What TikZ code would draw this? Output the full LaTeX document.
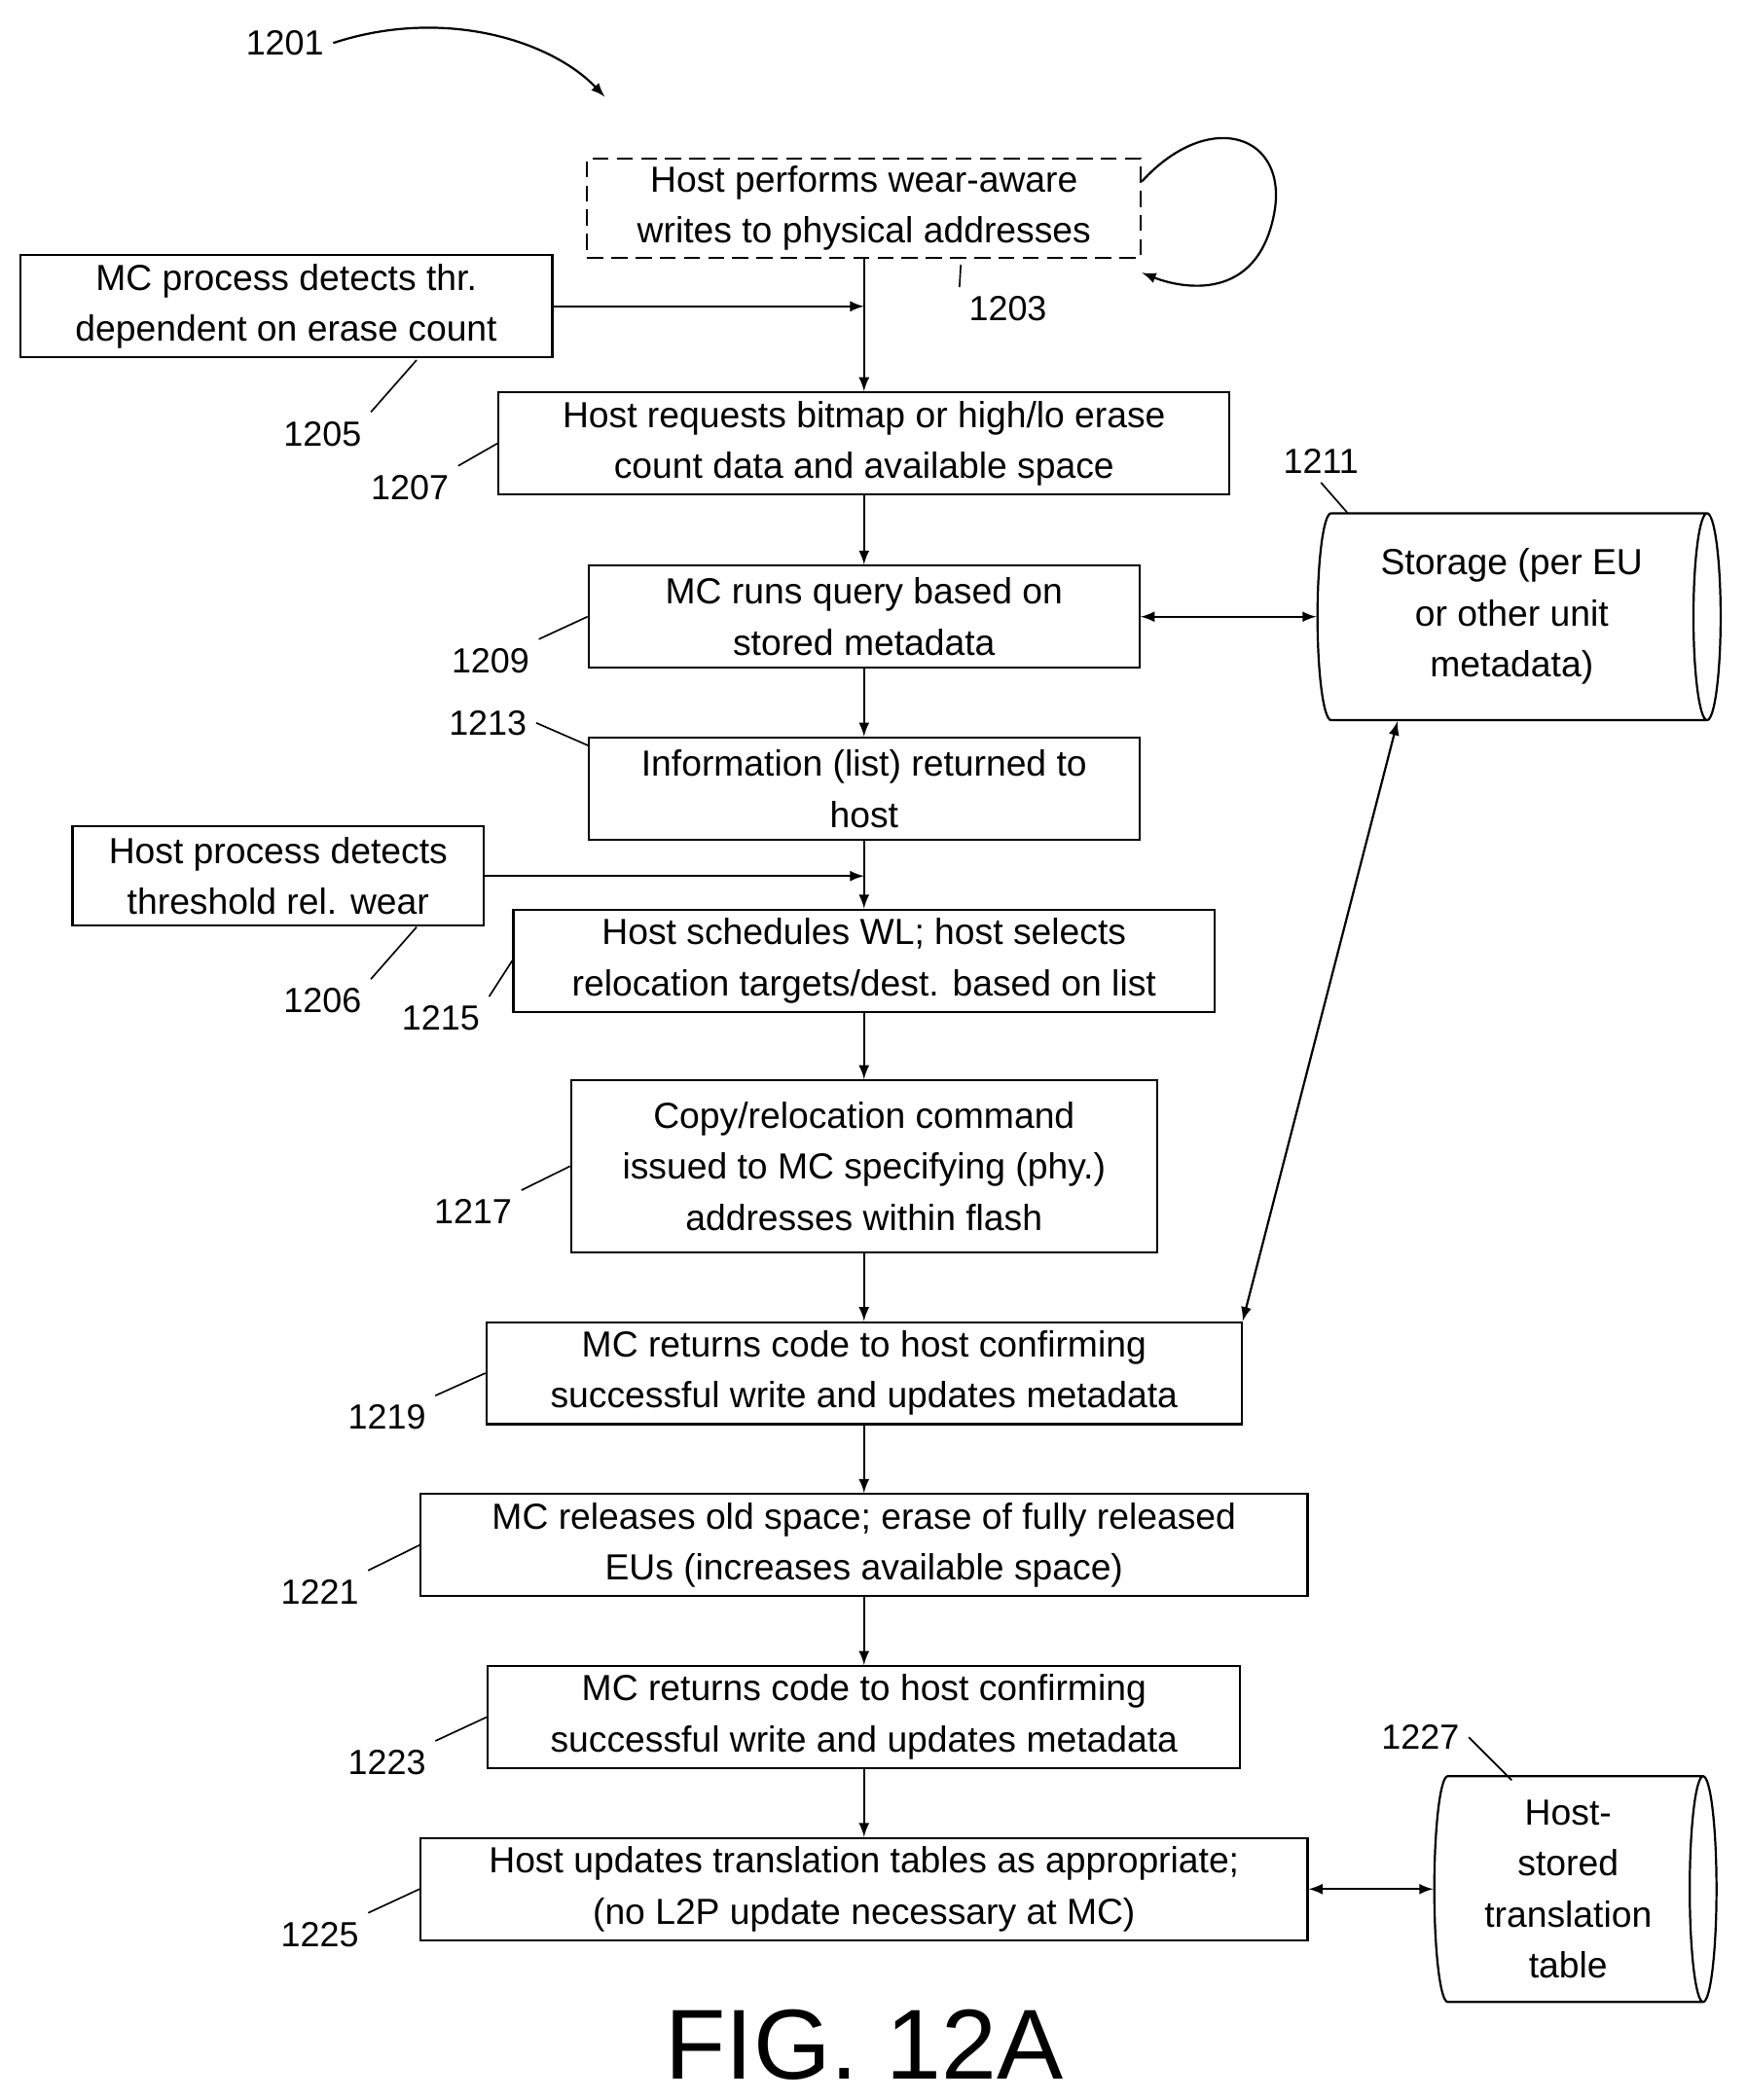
\documentclass[tikz,border=0pt]{standalone}
\usepackage{fontspec}
\setmainfont{Liberation Sans}
\usetikzlibrary{
  calc,
  positioning,
  shapes.geometric
}
\tikzset{
  % For process steps.
  stage/.style={
    draw,
    line width=0.8pt,
    align=center,
    inner sep=0pt,
    font=\fontsize{13.5pt}{19pt}\selectfont},
%
  % For the optional first step.
  dashed stage/.style={
    stage,
    dash pattern=on 6pt off 3pt},
%
  % For stored data.
  store/.style={
    draw,
    line width=0.8pt,
    cylinder,
    align=center,
    inner sep=0pt,
    font=\fontsize{13.5pt}{19pt}\selectfont},
%
  % For reference numerals.
  ref/.style={
    font=\fontsize{13pt}{15pt}\selectfont},
%
  % For lines from numerals to steps.
  leader/.style={
    line width=0.6pt},
%
  % For flow arrows.
  flow/.style={
    line width=0.8pt,
    -latex},
  % For two-way arrows.
  both/.style={
    line width=0.8pt,
    latex-latex}
}
\begin{document}
\begin{tikzpicture}[x=0.5pt,y=-0.5pt]
  \useasboundingbox (0,0) rectangle (1300,1563);

  \node [dashed stage, minimum width=206pt, minimum height=37pt] (wear) at (643,155)
        {Host performs wear-aware\\writes to physical addresses};
  \node [stage, minimum width=198pt, minimum height=38pt] (mcthr) at (213,228)
        {MC process detects thr.\\dependent on erase count};
  \node [stage, minimum width=272pt, minimum height=38pt] (request) at (643,330)
        {Host requests bitmap or high/lo erase\\count data and available space};
  \node [stage, minimum width=205pt, minimum height=38pt] (query) at (643,459)
        {MC runs query based on\\stored metadata};
  \node [stage, minimum width=205pt, minimum height=38pt] (info) at (643,587)
        {Information (list) returned to\\host};
  \node [stage, minimum width=153pt, minimum height=37pt] (hostthr) at (207,652)
        {Host process detects\\threshold rel. wear};
  \node [stage, minimum width=261pt, minimum height=38pt] (schedule) at (643,715)
        {Host schedules WL; host selects\\relocation targets/dest. based on list};
  \node [stage, minimum width=218pt, minimum height=64pt] (copy) at (643,868)
        {Copy/relocation command\\issued to MC specifying (phy.)\\addresses within flash};
  \node [stage, minimum width=281pt, minimum height=38pt] (confirm) at (643,1022)
        {MC returns code to host confirming\\successful write and updates metadata};
  \node [stage, minimum width=330pt, minimum height=38pt] (release) at (643,1150)
        {MC releases old space; erase of fully released\\EUs (increases available space)};
  \node [stage, minimum width=280pt, minimum height=38pt] (confirm2) at (643,1278)
        {MC returns code to host confirming\\successful write and updates metadata};
  \node [stage, minimum width=330pt, minimum height=38pt] (update) at (643,1406)
        {Host updates translation tables as appropriate;\\(no L2P update necessary at MC)};

  \node [store, minimum height=150pt, minimum width=77pt, aspect=0.2] (meta) at (1125,459)
        {Storage (per EU\\or other unit\\metadata)};
  \node [store, minimum height=105pt, minimum width=84pt, aspect=0.15] (table) at (1167,1406)
        {Host-\\stored\\translation\\table};

  % Junctions on the main flow.
  \coordinate (j1) at (wear.south |- mcthr);
  \coordinate (j2) at (info.south |- hostthr);

  \draw[flow] (wear) -- (request);
  \draw[flow] (mcthr) -- (j1);
  \draw[flow] (request) -- (query);
  \draw[both] (query) -- (meta);
  \draw[flow] (query) -- (info);
  \draw[flow] (info) -- (schedule);
  \draw[flow] (hostthr) -- (j2);
  \draw[flow] (schedule) -- (copy);
  \draw[flow] (copy) -- (confirm);
  \draw[both] (confirm.north east) -- ($(meta.south)+(-85,0)$);
  \draw[flow] (confirm) -- (release);
  \draw[flow] (release) -- (confirm2);
  \draw[flow] (confirm2) -- (update);
  \draw[both] (update) -- (table);

  % Repeated writes.
  \draw[flow] ($(wear.east)+(0,-20)$)
                .. controls (900,80) and (960,100) .. (948,160)
                .. controls (935,225) and (880,215) .. ($(wear.east)+(0,48)$);

  \node[ref] (n1201) at (212,32) {1201};
  \draw[flow] (n1201.east) .. controls (330,5) and (410,30) .. (450,72);

  \node[ref] (n1203) at (750,230) {1203};
  \draw[leader] (n1203.north west) -- (715,197);
  \node[ref] (n1205) at (240,323) {1205};
  \draw[leader] (n1205.north east) -- (310,268);
  \node[ref] (n1207) at (305,363) {1207};
  \draw[leader] (n1207.north east) -- (request.west);
  \node[ref] (n1211) at (983,343) {1211};
  \draw[leader] (n1211.south) -- (1003,382);
  \node[ref] (n1209) at (365,492) {1209};
  \draw[leader] (n1209.north east) -- (query.west);
  \node[ref] (n1213) at (363,538) {1213};
  \draw[leader] (n1213.east) -- (438,555);
  \node[ref] (n1206) at (240,745) {1206};
  \draw[leader] (n1206.north east) -- (310,690);
  \node[ref] (n1215) at (328,758) {1215};
  \draw[leader] (n1215.north east) -- (schedule.west);
  \node[ref] (n1217) at (352,902) {1217};
  \draw[leader] (n1217.north east) -- (copy.west);
  \node[ref] (n1219) at (288,1055) {1219};
  \draw[leader] (n1219.north east) -- (confirm.west);
  \node[ref] (n1221) at (238,1185) {1221};
  \draw[leader] (n1221.north east) -- (release.west);
  \node[ref] (n1223) at (288,1312) {1223};
  \draw[leader] (n1223.north east) -- (confirm2.west);
  \node[ref] (n1225) at (238,1440) {1225};
  \draw[leader] (n1225.north east) -- (update.west);
  \node[ref] (n1227) at (1057,1293) {1227};
  \draw[leader] (n1227.east) -- (1125,1325);

  \node[font=\fontsize{37pt}{42pt}\selectfont] (fig) at (643,1522) {FIG. 12A};
\end{tikzpicture}
\end{document}
